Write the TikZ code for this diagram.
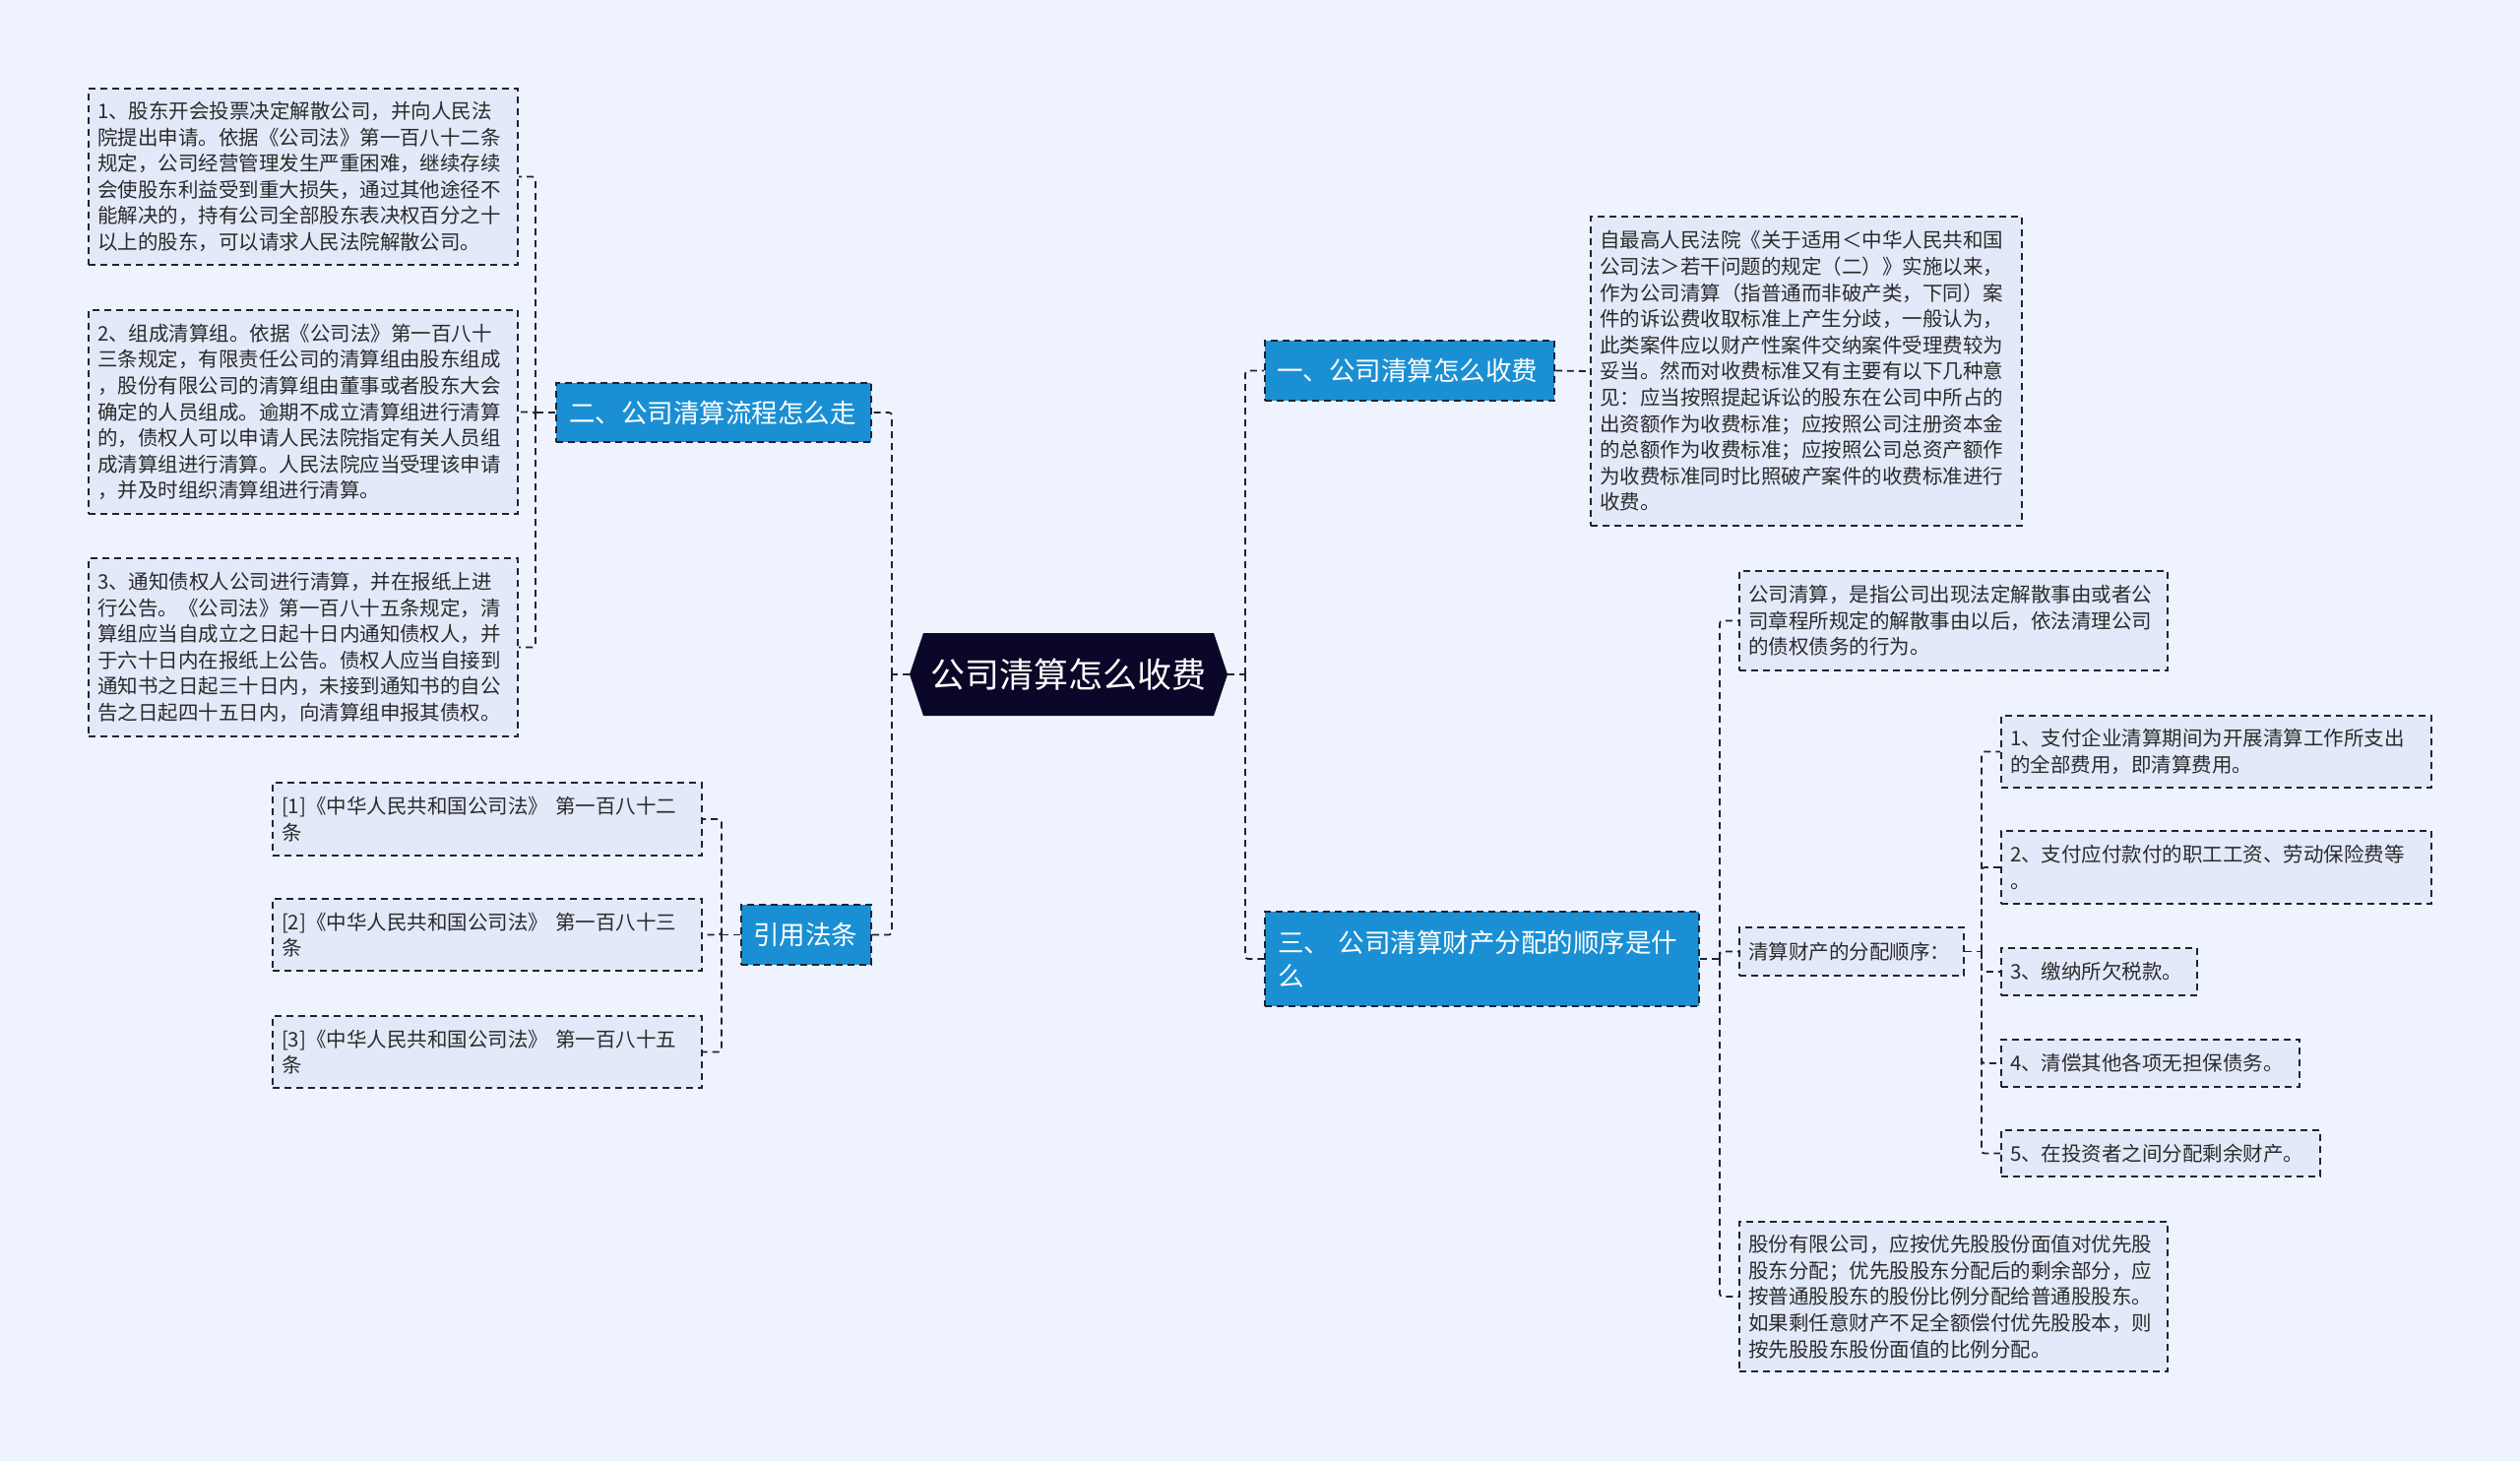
\documentclass[tikz,border=0pt]{standalone}
\usepackage{fontspec}
\setmainfont{Noto Sans CJK SC}
\XeTeXlinebreaklocale "zh"
\definecolor{cbg}{HTML}{EEF3FD}
\definecolor{cbox}{HTML}{E2EAFA}
\definecolor{cblue}{HTML}{1A8FD3}
\definecolor{cnavy}{HTML}{0B0728}
\definecolor{cline}{HTML}{1F2430}
\definecolor{ctext}{HTML}{2B2B2B}
\begin{document}
\begin{tikzpicture}[x=1pt,y=-1pt,
  dsh/.style={line width=1.8pt, dash pattern=on 7pt off 5pt},
  conn/.style={draw=cline, dsh, rounded corners=3pt},
  box/.style={draw=cline, dsh, fill=cbox, text=ctext, inner sep=0pt, align=left,
    font=\fontsize{20.5}{26.6}\selectfont},
  topic/.style={draw=cline, dsh, fill=cblue, text=white, inner sep=0pt, align=left,
    font=\fontsize{26.5}{34}\selectfont},
  sz/.style n args={3}{minimum width=#1pt, minimum height=#2pt, text width=#3pt}
]
\useasboundingbox (0,0) rectangle (2560,1484);
\fill[cbg] (0,0) rectangle (2560,1484);

% central node
\node[inner sep=0pt, minimum width=323pt, minimum height=84pt, text=white,
  font=\fontsize{35}{40}\selectfont,
  path picture={\fill[cnavy] ([xshift=14pt]path picture bounding box.north west)
    -- ([xshift=-14pt]path picture bounding box.north east)
    -- (path picture bounding box.east)
    -- ([xshift=-14pt]path picture bounding box.south east)
    -- ([xshift=14pt]path picture bounding box.south west)
    -- (path picture bounding box.west) -- cycle;}]
  (c) at (1085.5,685) {公司清算怎么收费};

% main topics
\node[topic, sz={320}{60}{294}] (n2) at (725,419) {二、公司清算流程怎么走};
\node[topic, sz={132}{61}{108}] (nref) at (819,949.5) {引用法条};
\node[topic, sz={294}{61}{270}] (n1) at (1432,376.5) {一、公司清算怎么收费};
\node[topic, sz={441}{96}{415}] (n3) at (1505.5,974) {三、 公司清算财产分配的顺序是什\\么};

% left boxes
\node[box, sz={436}{179}{418}] (L1) at (308,179.5) {1、股东开会投票决定解散公司，并向人民法\\院提出申请。依据《公司法》第一百八十二条\\规定，公司经营管理发生严重困难，继续存续\\会使股东利益受到重大损失，通过其他途径不\\能解决的，持有公司全部股东表决权百分之十\\以上的股东，可以请求人民法院解散公司。};
\node[box, sz={436}{207}{418}] (L2) at (308,418.5) {2、组成清算组。依据《公司法》第一百八十\\三条规定，有限责任公司的清算组由股东组成\\，股份有限公司的清算组由董事或者股东大会\\确定的人员组成。逾期不成立清算组进行清算\\的，债权人可以申请人民法院指定有关人员组\\成清算组进行清算。人民法院应当受理该申请\\，并及时组织清算组进行清算。};
\node[box, sz={436}{181}{418}] (L3) at (308,657.5) {3、通知债权人公司进行清算，并在报纸上进\\行公告。《公司法》第一百八十五条规定，清\\算组应当自成立之日起十日内通知债权人，并\\于六十日内在报纸上公告。债权人应当自接到\\通知书之日起三十日内，未接到通知书的自公\\告之日起四十五日内，向清算组申报其债权。};

% references
\node[box, sz={436}{74}{418}] (r1) at (495,832) {[1]《中华人民共和国公司法》 第一百八十二\\条};
\node[box, sz={436}{73}{418}] (r2) at (495,949.5) {[2]《中华人民共和国公司法》 第一百八十三\\条};
\node[box, sz={436}{73}{418}] (r3) at (495,1068.5) {[3]《中华人民共和国公司法》 第一百八十五\\条};

% right side boxes
\node[box, sz={438}{314}{420}] (R1) at (1835,377) {自最高人民法院《关于适用＜中华人民共和国\\公司法＞若干问题的规定（二）》实施以来，\\作为公司清算（指普通而非破产类，下同）案\\件的诉讼费收取标准上产生分歧，一般认为，\\此类案件应以财产性案件交纳案件受理费较为\\妥当。然而对收费标准又有主要有以下几种意\\见：应当按照提起诉讼的股东在公司中所占的\\出资额作为收费标准；应按照公司注册资本金\\的总额作为收费标准；应按照公司总资产额作\\为收费标准同时比照破产案件的收费标准进行\\收费。};
\node[box, sz={435}{101}{417}] (def) at (1984.5,630.5) {公司清算，是指公司出现法定解散事由或者公\\司章程所规定的解散事由以后，依法清理公司\\的债权债务的行为。};
\node[box, sz={228}{49}{210}] (ord) at (1881,966.5) {清算财产的分配顺序：};
\node[box, sz={435}{152}{417}] (gf) at (1984.5,1317) {股份有限公司，应按优先股股份面值对优先股\\股东分配；优先股股东分配后的剩余部分，应\\按普通股股东的股份比例分配给普通股股东。\\如果剩任意财产不足全额偿付优先股股本，则\\按先股股东股份面值的比例分配。};

\node[box, sz={437}{73}{419}] (i1) at (2251.5,763.5) {1、支付企业清算期间为开展清算工作所支出\\的全部费用，即清算费用。};
\node[box, sz={437}{74}{419}] (i2) at (2251.5,881) {2、支付应付款付的职工工资、劳动保险费等\\。};
\node[box, sz={199}{48}{181}] (i3) at (2132.5,987) {3、缴纳所欠税款。};
\node[box, sz={303}{48}{285}] (i4) at (2184.5,1080) {4、清偿其他各项无担保债务。};
\node[box, sz={324}{47}{306}] (i5) at (2195,1171.5) {5、在投资者之间分配剩余财产。};

% connectors
\coordinate (tL) at (906,685);
\coordinate (tR) at (1265,685);
\draw[conn] (c.west) -- (tL);
\draw[conn] (tL) |- (n2.east);
\draw[conn] (tL) |- (nref.east);
\draw[conn] (c.east) -- (tR);
\draw[conn] (tR) |- (n1.west);
\draw[conn] (tR) |- (n3.west);

\coordinate (bL) at (544,419);
\draw[conn] (n2.west) -- (bL);
\draw[conn] (bL) |- (L1.east);
\draw[conn] (bL) |- (L2.east);
\draw[conn] (bL) |- (L3.east);

\coordinate (bR) at (733,949.5);
\draw[conn] (nref.west) -- (bR);
\draw[conn] (bR) |- (r1.east);
\draw[conn] (bR) |- (r2.east);
\draw[conn] (bR) |- (r3.east);

\draw[conn] (n1.east) -- (R1.west);

\coordinate (b3) at (1747,974);
\draw[conn] (n3.east) -- (b3);
\draw[conn] (b3) |- (def.west);
\draw[conn] (b3) |- (ord.west);
\draw[conn] (b3) |- (gf.west);

\coordinate (b4) at (2013,966.5);
\draw[conn] (ord.east) -- (b4);
\draw[conn] (b4) |- (i1.west);
\draw[conn] (b4) |- (i2.west);
\draw[conn] (b4) |- (i3.west);
\draw[conn] (b4) |- (i4.west);
\draw[conn] (b4) |- (i5.west);
\end{tikzpicture}
\end{document}
